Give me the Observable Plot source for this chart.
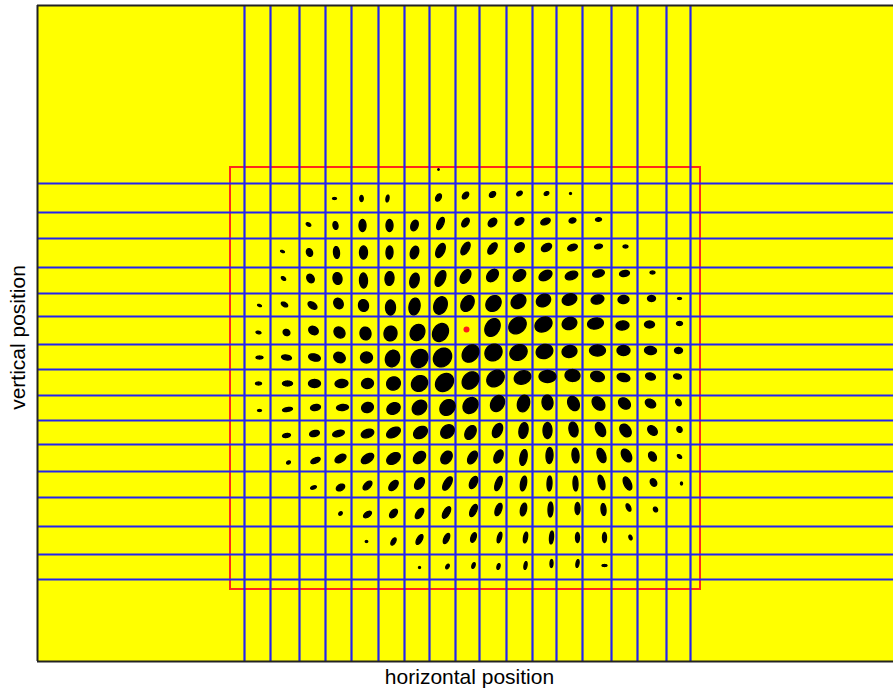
<!DOCTYPE html>
<html><head><meta charset="utf-8">
<script src="https://cdn.jsdelivr.net/npm/d3@7"></script>
<script src="https://cdn.jsdelivr.net/npm/@observablehq/plot@0.6"></script>
<style>body{margin:0;background:#fff} svg{display:block}</style>
</head><body><div id="chart"></div>
<script>
// Grid (lenslet boundaries) positions, in detector pixel units
const vLines = [244, 270, 299, 325, 351, 378, 404, 429, 455, 479, 506, 532, 556, 582, 611, 637, 666, 690];
const hLines = [183, 212, 238, 267, 293, 316, 344, 369, 395, 420, 444, 471, 497, 526, 554, 579];
// Red pupil box: [x1, x2, y1, y2]
const redBox = [230, 700, 167, 589];
// Reference (centre) point
const refPoint = [466, 329];
// Spot centres, major length, minor width, orientation (deg, counter-clockwise from horizontal)
const spotX = [
  438,
  334, 361, 387, 438, 465, 492, 519, 546, 570,
  308, 335, 362, 389, 414, 440, 465, 492, 519, 545, 572, 598,
  282, 309, 336, 363, 389, 414, 440, 465, 492, 519, 546, 572, 598, 625,
  283, 310, 337, 363, 389, 414, 440, 465, 492, 519, 545, 571, 598, 624, 652,
  259, 284, 312, 338, 363, 390, 414, 440, 467, 493, 518, 543, 569, 597, 623, 651, 679,
  258, 286, 313, 339, 365, 390, 417, 440, 492, 517, 543, 569, 595, 622, 649, 679,
  259, 286, 314, 339, 366, 392, 419, 442, 470, 493, 518, 544, 569, 597, 623, 650, 678,
  258, 287, 314, 341, 367, 393, 419, 444, 470, 495, 522, 547, 572, 597, 623, 650, 677,
  259, 287, 315, 342, 367, 393, 419, 447, 470, 497, 523, 547, 573, 598, 624, 650, 678,
  286, 314, 338, 367, 393, 420, 447, 470, 497, 523, 547, 573, 600, 625, 652, 679,
  288, 315, 340, 367, 393, 419, 446, 472, 498, 523, 549, 575, 601, 626, 652, 679,
  313, 340, 367, 393, 419, 447, 473, 498, 523, 549, 575, 601, 627, 653, 681,
  340, 367, 393, 419, 446, 473, 498, 523, 550, 577, 603, 628, 655,
  366, 393, 419, 446, 473, 499, 525, 551, 577, 604, 630,
  419, 447, 473, 498, 525, 551, 577, 604
];
const spotY = [
  169,
  198, 198, 198, 197, 195, 194, 193, 193, 193,
  224, 225, 225, 225, 225, 223, 222, 222, 221, 221, 220, 219,
  251, 252, 252, 252, 252, 252, 250, 248, 248, 247, 247, 247, 246, 246,
  278, 278, 278, 280, 278, 280, 278, 276, 275, 275, 275, 275, 273, 273, 272,
  305, 304, 305, 303, 305, 307, 306, 305, 303, 303, 301, 300, 299, 299, 299, 298, 298,
  332, 332, 330, 332, 333, 333, 332, 332, 327, 325, 324, 323, 323, 325, 324, 323,
  357, 357, 357, 357, 357, 358, 358, 357, 353, 352, 352, 351, 351, 350, 350, 350, 350,
  383, 383, 383, 383, 383, 383, 383, 382, 380, 378, 377, 376, 375, 376, 377, 376, 376,
  410, 409, 407, 407, 407, 408, 407, 407, 405, 403, 403, 402, 403, 403, 403, 403, 402,
  435, 433, 433, 433, 432, 432, 431, 432, 430, 430, 430, 429, 429, 430, 430, 429,
  462, 460, 458, 458, 458, 457, 457, 457, 456, 457, 455, 455, 455, 455, 456, 456,
  487, 487, 485, 485, 483, 483, 482, 483, 483, 483, 483, 482, 483, 482, 483,
  513, 514, 513, 513, 512, 510, 509, 509, 509, 508, 509, 507, 509,
  541, 541, 539, 538, 537, 537, 537, 537, 537, 537, 537,
  567, 566, 565, 566, 565, 563, 563, 565
];
const spotL = [
  1.5,
  4, 6, 7, 8, 8, 7, 6, 5, 2,
  5, 8, 12, 12, 11, 13, 10, 10, 10, 10, 7, 6,
  4, 8, 12, 13, 13, 13, 15, 14, 13, 11, 11, 10, 8, 5,
  5, 9, 12, 15, 14, 15, 17, 15, 14, 14, 14, 13, 12, 10, 5,
  4, 7, 10, 11, 12, 15, 17, 18, 17, 17, 16, 15, 15, 13, 11, 8, 4,
  5, 7, 10, 12, 13, 15, 17, 19, 19, 19, 18, 15, 16, 13, 10, 6,
  7, 10, 12, 12, 12, 17, 19, 20, 19, 18, 18, 17, 15, 16, 13, 12, 8,
  6, 10, 12, 13, 12, 14, 17, 20, 19, 19, 17, 17, 15, 14, 13, 10, 8,
  4, 10, 10, 12, 12, 14, 16, 17, 17, 17, 17, 15, 15, 15, 13, 11, 7,
  8, 10, 12, 13, 15, 15, 15, 15, 15, 16, 16, 15, 15, 14, 11, 6,
  4, 10, 12, 14, 15, 14, 14, 14, 14, 16, 16, 15, 15, 14, 10, 5,
  6, 9, 11, 12, 13, 15, 13, 15, 15, 15, 15, 15, 14, 8, 3,
  4, 9, 10, 12, 13, 13, 13, 13, 15, 12, 12, 8, 5,
  2.5, 8, 11, 11, 10, 11, 11, 13, 10, 10, 5,
  2, 5, 6, 6, 8, 8, 8, 5
];
const spotW = [
  1.5,
  2, 3.5, 3, 5, 5, 5, 4, 3.5, 2,
  3, 5, 7, 7, 7, 6, 6, 7, 6, 6, 5, 3.5,
  2, 6, 6, 8, 7, 8, 8, 7, 7, 8, 7, 6, 4.5, 3,
  3, 7, 9, 8, 9, 9, 9, 9, 10, 10, 9, 8, 7, 6, 3,
  2, 4, 6, 9, 10, 10, 11, 13, 12, 14, 13, 12, 11, 9, 8, 6, 2,
  2.5, 6, 8, 10, 11, 13, 14, 15, 14, 15, 14, 12, 11, 9, 7, 4,
  3, 5, 7, 10, 11, 14, 16, 17, 15, 16, 15, 14, 12, 11, 10, 8, 6,
  3, 5, 8, 8, 10, 13, 15, 16, 15, 15, 13, 12, 12, 10, 8, 7, 5,
  2, 4, 6, 6, 10, 11, 13, 14, 14, 13, 12, 11, 11, 11, 10, 8, 5,
  4, 6, 6, 8, 9, 11, 12, 10, 9, 9, 9, 9, 9, 10, 8, 5,
  3, 5, 7, 8, 10, 10, 10, 8, 8, 7, 7, 7, 8, 9, 7, 3,
  3, 6, 6, 7, 8, 7, 7, 6, 6, 5, 5, 6, 7, 6, 2,
  3, 5, 6, 6, 6, 6, 6, 6, 5, 5, 5, 4, 4,
  2, 4, 5, 5, 5, 4, 4, 4, 4, 4, 3,
  2, 3, 3, 3, 3, 3, 3, 2
];
const spotA = [
  0,
  0, 90, 80, 60, 50, 40, 30, 30, 0,
  -30, 100, 90, 90, 70, 65, 55, 45, 35, 25, 15, 5,
  -20, 110, 95, 90, 88, 72, 65, 60, 55, 45, 30, 20, 10, 0,
  -40, 120, 100, 92, 85, 75, 65, 60, 50, 40, 30, 20, 15, 10, 0,
  -20, -30, -35, 120, 100, 90, 80, 70, 60, 50, 40, 30, 20, 15, 5, 0, 0,
  -10, -30, -30, -45, 100, 80, 60, 60, 60, 40, 30, 20, 10, 5, 0, 0,
  0, -10, -15, -30, 0, 70, 60, 50, 50, 40, 30, 20, 10, 0, 0, -5, 0,
  0, 0, 0, 5, 10, 30, 40, 45, 50, 40, 20, 0, -5, -15, -15, -15, -10,
  0, 10, 10, 5, 20, 30, 45, 50, 55, 60, 75, 95, 115, 130, 140, 150, 120,
  10, 15, 15, 20, 30, 35, 45, 60, 65, 80, 90, 100, 115, 125, 135, 120,
  30, 25, 30, 35, 35, 45, 55, 60, 65, 80, 88, 95, 110, 120, 120, 140,
  20, 30, 45, 50, 55, 60, 65, 70, 80, 88, 92, 105, 115, 120, 90,
  45, 35, 50, 55, 60, 65, 70, 78, 88, 90, 95, 115, 120,
  0, 60, 60, 65, 70, 75, 80, 85, 90, 90, 110,
  0, 60, 70, 75, 80, 88, 80, 0
];

// Build ellipse outlines from the spot parameters
const nSpots = Math.min(spotX.length, spotY.length, spotL.length, spotW.length, spotA.length);
const outline = [];
const K = 28;
for (let i = 0; i < nSpots; i++) {
  const a = spotL[i] / 2, b = spotW[i] / 2, th = spotA[i] * Math.PI / 180;
  for (let k = 0; k < K; k++) {
    const t = 2 * Math.PI * k / K;
    const ux = a * Math.cos(t), uy = b * Math.sin(t);
    outline.push({
      id: i,
      x: spotX[i] + ux * Math.cos(th) - uy * Math.sin(th),
      y: spotY[i] - (ux * Math.sin(th) + uy * Math.cos(th))
    });
  }
}

const xDomain = [37, 893];
const yDomain = [661, 5];

const chart = Plot.plot({
  width: 893,
  height: 693,
  marginLeft: 37,
  marginRight: 0,
  marginTop: 5,
  marginBottom: 32,
  x: {domain: xDomain, axis: null},
  y: {domain: yDomain, axis: null},
  style: {background: "white", fontFamily: "'Liberation Sans', Arial, sans-serif"},
  marks: [
    Plot.frame({fill: "#ffff00", stroke: "none"}),
    Plot.rect([redBox], {x1: d => d[0], x2: d => d[1], y1: d => d[2], y2: d => d[3], fill: "none", stroke: "#ff2a1a", strokeWidth: 2}),
    Plot.ruleX(vLines, {stroke: "#2424f0", strokeWidth: 2.2}),
    Plot.ruleY(hLines, {stroke: "#2424f0", strokeWidth: 2.2}),
    Plot.line(outline, {x: "x", y: "y", z: "id", curve: "linear-closed", fill: "black", stroke: "black", strokeWidth: 1.3}),
    Plot.dot([refPoint], {x: d => d[0], y: d => d[1], r: 3, fill: "#ff1a1a", stroke: "none"}),
    Plot.ruleX([xDomain[0]], {stroke: "#222", strokeWidth: 2}),
    Plot.ruleY([yDomain[0], yDomain[1]], {stroke: "#222", strokeWidth: 2}),
    Plot.text(["horizontal position"], {frameAnchor: "bottom", textAnchor: "middle", dx: 4, dy: 22, fontSize: 21, fill: "black"}),
    Plot.text(["vertical position"], {frameAnchor: "left", textAnchor: "middle", dx: -19, dy: 4, rotate: -90, fontSize: 21, fill: "black"})
  ]
});
document.getElementById("chart").appendChild(chart);
</script>
</body></html>
